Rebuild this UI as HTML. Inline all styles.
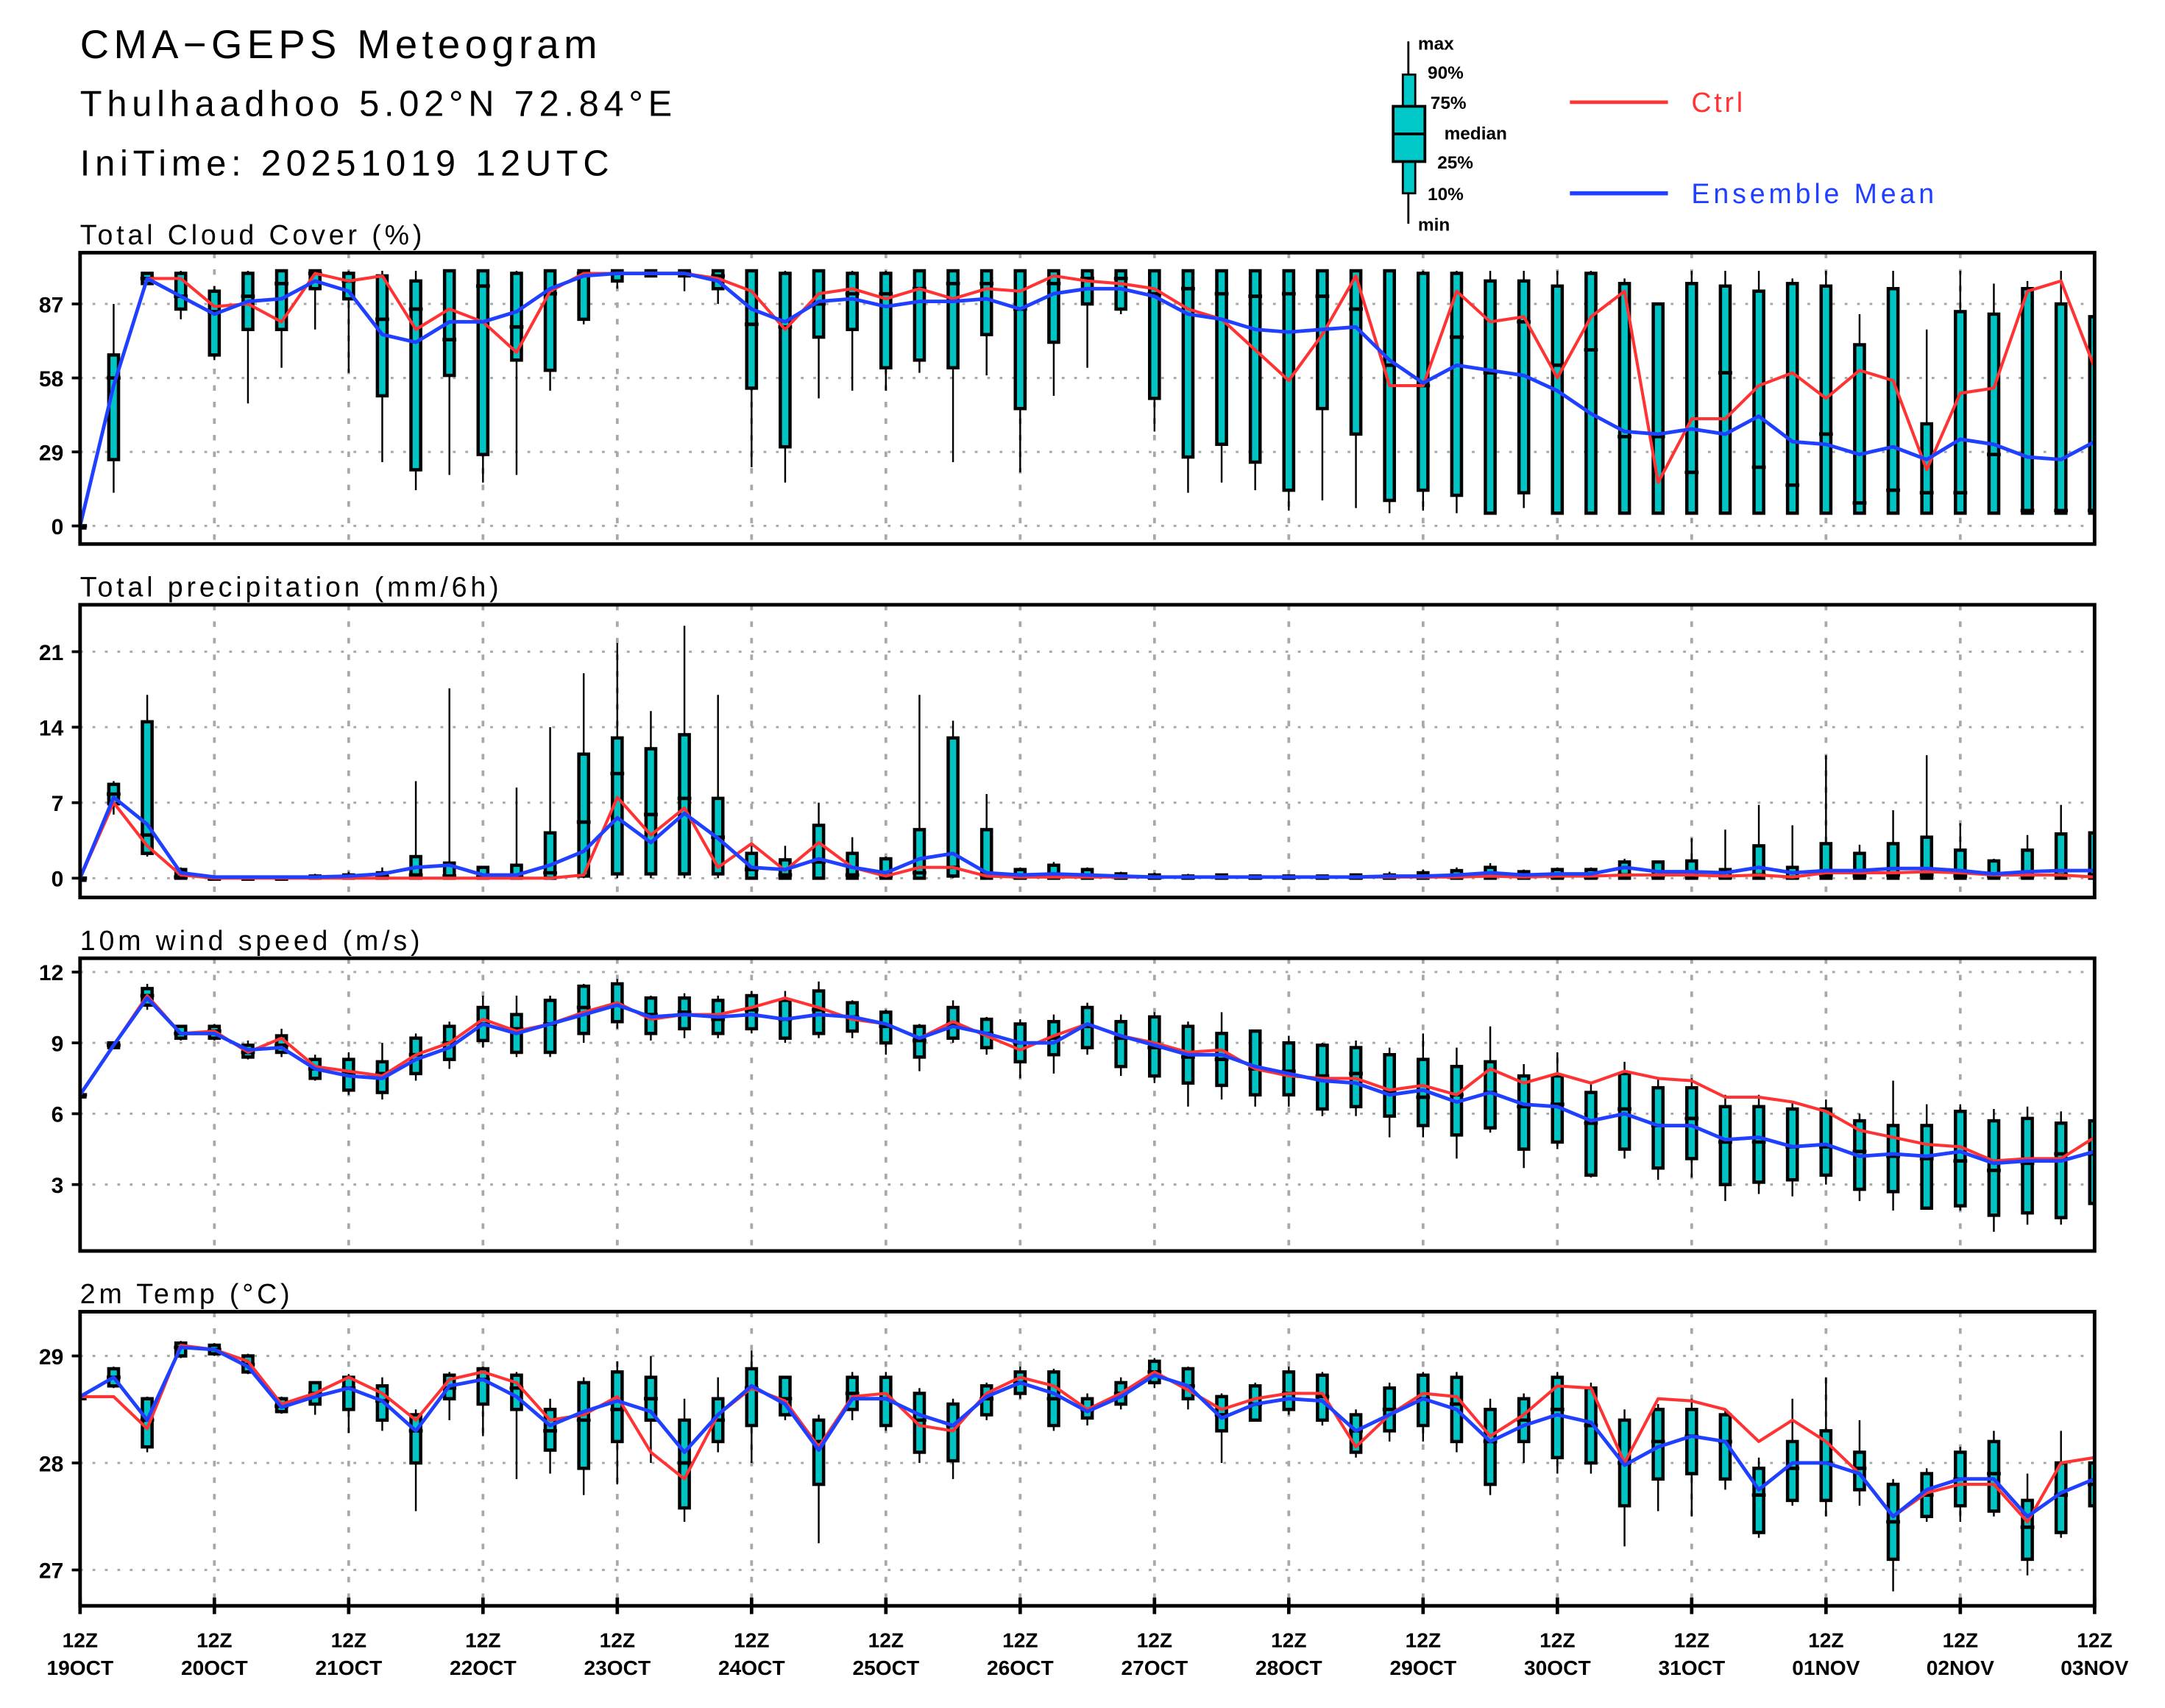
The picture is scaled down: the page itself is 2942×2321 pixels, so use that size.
<!DOCTYPE html>
<html><head><meta charset="utf-8"><style>
html,body{margin:0;padding:0;background:#fff;}
svg{display:block;font-family:"Liberation Sans","DejaVu Sans",sans-serif;}
</style></head><body>
<svg id="chart" width="2942" height="2321" viewBox="0 0 1568 1237" preserveAspectRatio="none" xmlns="http://www.w3.org/2000/svg">
<rect x="0" y="0" width="1568" height="1237" fill="#fff"/>
<g>
<text x="58" y="42" font-size="29" letter-spacing="3.4" fill="#000">CMA−GEPS Meteogram</text>
<text x="58" y="84" font-size="26" letter-spacing="3.6" fill="#000">Thulhaadhoo 5.02°N 72.84°E</text>
<text x="58" y="127" font-size="26" letter-spacing="3.6" fill="#000">IniTime: 20251019 12UTC</text>
</g>
<g font-size="13" font-weight="bold">
<line x1="1020" y1="30" x2="1020" y2="162" stroke="#000" stroke-width="1.5"/>
<rect x="1016" y="54" width="9" height="86" fill="#00c8c8" stroke="#000" stroke-width="1.5"/>
<rect x="1009" y="77" width="23" height="40" fill="#00c8c8" stroke="#000" stroke-width="2"/>
<line x1="1009" y1="97" x2="1032" y2="97" stroke="#000" stroke-width="2"/>
<text x="1027" y="36">max</text><text x="1034" y="57">90%</text><text x="1036" y="79">75%</text>
<text x="1046" y="101">median</text><text x="1041" y="122">25%</text><text x="1034" y="145">10%</text><text x="1027" y="167">min</text>
<line x1="1137" y1="74" x2="1208" y2="74" stroke="#ff3333" stroke-width="2.5"/>
<text x="1225" y="81" font-size="20" font-weight="normal" letter-spacing="2" fill="#ff3333">Ctrl</text>
<line x1="1137" y1="140" x2="1208" y2="140" stroke="#2040ff" stroke-width="3"/>
<text x="1225" y="147" font-size="20" font-weight="normal" letter-spacing="2.6" fill="#2040ff">Ensemble Mean</text>
</g>
<g id="plots"></g>
</svg>
<script>
// ---- Time axis ----
const dayLabels = ["19OCT","20OCT","21OCT","22OCT","23OCT","24OCT","25OCT","26OCT","27OCT","28OCT","29OCT","30OCT","31OCT","01NOV","02NOV","03NOV"];
// ---- Cloud cover (%) ----
const cloudTicks = [0,29,58,87];
const cloudMin = [0,13,97,81,65,48,62,77,60,25, 14,20,17,20,53,79,93,98,92,87, 23,17,50,53,53,60,25,59,21,51, 62,83,37,13,17,14,6,10,7,5, 6,5,5,7,5,5,5,5,5,5, 5,5,5,5,5,5,5,5,5,5, 5];
const cloudP10 = [0,26,95,85,67,77,77,93,89,51, 22,59,28,65,61,81,96,98,98,93, 54,31,74,77,62,65,62,75,46,72, 87,85,50,27,32,25,14,46,36,10, 14,12,5,13,5,5,5,5,5,5, 5,5,5,5,5,5,5,5,5,5, 5];
const cloudMed = [0,58,97,90,84,90,95,99,96,81, 85,73,94,78,91,99,99,99,99,98, 79,78,87,91,91,93,95,95,85,95, 97,97,91,93,91,90,91,90,85,63, 55,74,60,80,63,69,35,35,21,60, 23,16,36,9,14,13,13,28,6,6, 6];
const cloudP90 = [0,67,99,99,92,99,100,100,99,98, 96,100,100,99,100,100,100,100,100,100, 100,99,100,99,99,100,100,100,100,100, 100,100,100,100,100,100,100,100,100,100, 99,99,96,96,94,99,95,87,95,94, 92,95,94,71,93,40,84,83,93,87, 82];
const cloudMax = [0,87,97,100,94,100,100,100,100,100, 100,100,100,100,100,100,100,100,100,100, 100,100,100,100,100,100,100,100,100,100, 100,100,100,100,100,100,100,100,100,100, 100,100,100,100,100,100,97,87,100,100, 100,97,100,83,100,77,100,95,96,100, 82];
const cloudCtrl = [0,55,97,97,86,87,80,99,96,98, 77,85,80,68,92,99,99,99,99,97, 92,77,91,93,89,93,89,93,92,98, 96,95,93,85,81,69,57,75,98,55, 55,92,80,82,58,82,92,17,42,42, 55,60,50,61,57,22,52,54,92,96, 62];
const cloudMean = [0,55,97,90,83,88,89,96,92,75, 72,80,80,84,93,98,99,99,99,96, 85,80,88,89,86,88,88,89,85,91, 93,93,90,83,81,77,76,77,78,65, 56,63,61,59,53,44,37,36,38,36, 43,33,32,28,31,26,34,32,27,26, 33];
// ---- Precipitation (mm/6h) ----
const precTicks = [0,7,14,21];
const precMin = [0,5.9,2.0,0,0,0,0,0,0,0, 0,0,0,0,0,0,0,0,0,0, 0,0,0,0,0,0,0,0,0,0, 0,0,0,0,0,0,0,0,0,0, 0,0,0,0,0,0,0,0,0,0, 0,0,0,0,0,0,0,0,0,0, 0];
const precP10 = [0,6.9,2.3,0,0,0,0,0,0,0, 0,0,0,0,0,0.2,0.4,0.4,0.4,0.4, 0,0,0,0,0,0,0.2,0,0,0, 0,0,0,0,0,0,0,0,0,0, 0,0,0,0,0,0,0,0,0,0, 0,0,0,0,0,0,0,0,0,0, 0];
const precMed = [0,7.8,4.0,0.1,0,0,0,0.05,0.1,0.1, 0.3,0.2,0.1,0.1,0.5,5.2,9.7,5.9,7.4,3.8, 0.8,0.3,1.5,0.3,0.2,0.5,1.0,0.3,0.1,0.1, 0.1,0.05,0.05,0.05,0.05,0.05,0.05,0.05,0.05,0.05, 0.1,0.1,0.2,0.1,0.1,0.1,0.3,0.2,0.2,0.1, 0.3,0.1,0.3,0.2,0.3,0.3,0.2,0.2,0.2,0.3, 0.3];
const precP90 = [0,8.7,14.5,0.8,0.1,0.1,0.1,0.2,0.3,0.5, 2.0,1.4,1.0,1.2,4.2,11.5,13,12,13.3,7.4, 2.3,1.7,4.9,2.3,1.8,4.5,13,4.5,0.8,1.2, 0.8,0.4,0.3,0.2,0.3,0.2,0.2,0.2,0.3,0.3, 0.5,0.7,1.0,0.6,0.8,0.8,1.5,1.5,1.6,0.8, 3.0,1.0,3.2,2.3,3.2,3.8,2.6,1.6,2.6,4.1, 4.2];
const precMax = [0,9,17,1,0.2,0.2,0.2,0.4,0.6,1, 9,17.6,1,8.4,14,19,21.8,15.5,23.4,17, 3,3,7,3.8,2,17,14.6,7.8,1,1.5, 1,0.6,0.5,0.4,0.4,0.3,0.3,0.3,0.4,0.6, 0.8,1,1.4,0.8,1,1,1.8,1.6,3.7,4.5, 6.8,4.9,11.4,3.1,6.3,11.4,5.1,1.8,4,6.8, 4.2];
const precCtrl = [0,7,3,0.3,0,0,0,0,0,0, 0,0,0,0,0,0.3,7.5,4,6.5,1, 3.2,0.7,3.3,1,0.2,1,1,0.2,0.1,0.1, 0.1,0.1,0.1,0.1,0.1,0.1,0.1,0.1,0.1,0.1, 0.1,0.1,0.2,0.1,0.2,0.2,0.3,0.3,0.3,0.2, 0.3,0.1,0.5,0.5,0.5,0.6,0.5,0.3,0.3,0.3, 0.1];
const precMean = [0,7.5,5,0.5,0.1,0.1,0.1,0.1,0.2,0.4, 1.0,1.2,0.3,0.3,1.2,2.5,5.6,3.3,6,3.7, 1.0,0.8,1.8,1,0.5,1.8,2.3,0.5,0.3,0.4, 0.3,0.2,0.1,0.1,0.1,0.1,0.1,0.1,0.1,0.2, 0.2,0.3,0.5,0.3,0.4,0.4,1.0,0.6,0.6,0.5, 1,0.5,0.7,0.7,0.9,0.9,0.7,0.4,0.6,0.7, 0.7];
// ---- Wind speed (m/s) ----
const windTicks = [3,6,9,12];
const windMin = [6.8,8.8,10.4,9.1,9.1,8.3,8.4,7.4,6.8,6.6, 7.4,7.9,8.8,8.4,8.4,9.0,9.6,9.1,9.2,9.2, 9.4,9.0,9.2,9.2,8.5,7.8,9.0,8.5,7.5,7.7, 8.5,7.6,7.3,6.3,6.6,6.3,6.3,5.9,5.9,5.0, 5.0,4.1,5.2,3.7,4.5,3.3,4.1,3.2,3.3,2.3, 2.6,2.5,3.0,2.3,1.9,2.0,1.9,1.0,1.3,1.3, 2.1];
const windP10 = [6.8,8.8,10.6,9.2,9.2,8.4,8.6,7.5,7.0,6.9, 7.7,8.3,9.1,8.6,8.6,9.4,9.9,9.4,9.6,9.4, 9.6,9.2,9.4,9.5,9.0,8.4,9.2,8.8,8.2,8.5, 8.8,8.0,7.6,7.3,7.2,6.8,6.8,6.2,6.3,5.9, 5.5,5.1,5.4,4.5,4.8,3.4,4.5,3.7,4.1,3.0, 3.1,3.2,3.4,2.8,2.7,2.0,2.1,1.7,1.8,1.6, 2.2];
const windMed = [6.8,8.9,11,9.4,9.5,8.6,8.9,7.9,7.7,7.7, 8.5,9.0,9.8,9.6,9.8,10.5,10.6,10.2,10.3,10, 10.4,10,10.4,10.1,9.7,9.1,9.8,9.4,9.0,9.2, 9.7,9.2,8.8,8.4,8.3,7.9,7.8,7.6,7.7,6.9, 6.7,6.8,6.9,6.3,6.4,5.6,6.2,5.5,5.8,4.8, 4.8,4.6,4.6,4.4,4.2,4.1,4.0,3.6,3.9,4.3, 4.3];
const windP90 = [6.8,9.0,11.3,9.7,9.7,8.9,9.3,8.3,8.3,8.2, 9.2,9.7,10.5,10.2,10.8,11.4,11.5,10.9,10.9,10.8, 11,10.8,11.2,10.7,10.3,9.7,10.5,10,9.8,9.9, 10.5,9.9,10.1,9.7,9.4,9.5,9.0,8.9,8.8,8.5, 8.3,8.0,8.2,7.6,7.6,6.9,7.7,7.1,7.1,6.3, 6.3,6.2,6.2,5.7,5.5,5.5,6.1,5.7,5.8,5.6, 5.7];
const windMax = [6.8,9.0,11.5,9.7,9.8,9.1,9.6,8.5,8.6,9.0, 9.4,9.9,11,11,11,11.5,11.7,11,11.1,11, 11.2,11.2,11.6,10.8,10.4,9.8,10.8,10.1,10,10.2, 10.7,10.2,10.3,9.9,10.3,9.5,9.3,9.0,9.1,8.8, 9.4,8.8,9.7,8.1,8.6,7.3,8.2,7.5,7.5,6.8, 6.8,6.5,6.6,6.0,7.4,6.4,6.4,6.2,6.3,6.1, 5.9];
const windCtrl = [6.8,8.9,11,9.4,9.5,8.6,9.2,8.0,7.8,7.6, 8.5,9.0,10,9.5,9.8,10.3,10.7,10.0,10.2,10.2, 10.5,10.9,10.5,10.0,9.8,9.2,9.9,9.3,8.7,9.3, 9.8,9.3,9.0,8.6,8.7,7.9,7.6,7.5,7.5,7.0, 7.2,6.8,7.9,7.3,7.7,7.3,7.8,7.5,7.4,6.7, 6.7,6.5,6.1,5.3,5.0,4.7,4.6,4.0,4.1,4.1, 5.0];
const windMean = [6.8,8.9,10.9,9.4,9.4,8.7,8.8,7.9,7.6,7.5, 8.3,8.8,9.8,9.4,9.8,10.2,10.6,10.1,10.2,10.1, 10.2,10,10.2,10.1,9.8,9.2,9.7,9.4,9.0,9.0, 9.8,9.3,8.9,8.5,8.5,8.0,7.7,7.4,7.3,6.8, 7.0,6.5,6.9,6.4,6.3,5.7,6.0,5.5,5.5,4.9, 5.0,4.6,4.7,4.2,4.3,4.2,4.4,3.9,4.0,4.0, 4.4];
// ---- 2m Temperature (°C) ----
const tempTicks = [27,28,29];
const tempMin = [28.62,28.7,28.1,28.98,29.0,28.83,28.46,28.45,28.28,28.3, 27.55,28.4,28.25,27.85,27.9,27.7,27.8,28.0,27.45,28.1, 28.0,28.4,27.25,28.4,28.3,28.0,27.85,28.4,28.6,28.3, 28.35,28.5,28.7,28.5,28.0,28.4,28.45,28.35,28.05,28.2, 28.2,28.1,27.7,28.0,27.9,27.9,27.22,27.55,27.5,27.75, 27.3,27.6,27.5,27.6,26.8,27.45,27.45,27.5,26.95,27.3, 27.55];
const tempP10 = [28.62,28.72,28.15,29.0,29.02,28.85,28.48,28.55,28.5,28.4, 28.0,28.6,28.55,28.5,28.12,27.95,28.2,28.4,27.58,28.2, 28.35,28.45,27.8,28.5,28.35,28.1,28.02,28.45,28.65,28.35, 28.42,28.55,28.75,28.6,28.3,28.4,28.5,28.4,28.1,28.3, 28.35,28.2,27.8,28.2,28.05,28.0,27.6,27.85,27.9,27.85, 27.35,27.65,27.65,27.75,27.1,27.5,27.6,27.55,27.1,27.35, 27.6];
const tempMed = [28.62,28.8,28.4,29.08,29.06,28.92,28.53,28.65,28.7,28.58, 28.3,28.7,28.78,28.7,28.3,28.4,28.5,28.6,28.0,28.4, 28.7,28.6,28.2,28.65,28.6,28.4,28.35,28.6,28.75,28.6, 28.5,28.65,28.85,28.72,28.45,28.55,28.65,28.62,28.3,28.5, 28.6,28.55,28.2,28.4,28.5,28.35,28.0,28.2,28.25,28.2, 27.7,27.95,28.0,27.95,27.45,27.7,27.85,27.9,27.4,27.7, 27.8];
const tempP90 = [28.62,28.88,28.6,29.12,29.1,29.0,28.6,28.75,28.8,28.72, 28.45,28.82,28.88,28.82,28.5,28.75,28.85,28.8,28.4,28.6, 28.88,28.8,28.4,28.8,28.8,28.65,28.55,28.72,28.85,28.85, 28.6,28.75,28.95,28.88,28.62,28.72,28.85,28.82,28.45,28.7, 28.82,28.8,28.5,28.6,28.8,28.7,28.4,28.5,28.5,28.45, 27.95,28.2,28.3,28.1,27.8,27.9,28.1,28.2,27.65,28.0, 28.0];
const tempMax = [28.62,28.9,28.62,29.14,29.12,29.02,28.62,28.75,28.83,28.8, 28.5,28.85,28.9,28.85,28.6,28.8,28.95,29.0,28.6,28.8, 29.05,28.8,28.45,28.85,28.85,28.7,28.6,28.75,28.9,28.88, 28.65,28.8,28.98,28.9,28.65,28.75,28.9,28.85,28.5,28.75, 28.85,28.85,28.6,28.65,28.85,28.75,28.5,28.55,28.6,28.5, 28.05,28.6,28.8,28.4,27.85,27.95,28.15,28.3,27.9,28.3, 28.1];
const tempCtrl = [28.62,28.62,28.32,29.1,29.06,28.95,28.55,28.65,28.8,28.65, 28.4,28.78,28.85,28.75,28.4,28.45,28.62,28.1,27.85,28.45, 28.7,28.58,28.15,28.62,28.65,28.35,28.3,28.65,28.8,28.72, 28.5,28.65,28.85,28.68,28.5,28.6,28.65,28.65,28.15,28.45, 28.65,28.62,28.25,28.45,28.72,28.7,28.0,28.6,28.58,28.5, 28.2,28.4,28.2,27.9,27.5,27.72,27.8,27.8,27.45,28.0, 28.05];
const tempMean = [28.62,28.8,28.4,29.08,29.06,28.9,28.52,28.62,28.7,28.58, 28.3,28.72,28.78,28.62,28.35,28.48,28.58,28.48,28.1,28.45, 28.72,28.55,28.12,28.6,28.6,28.45,28.35,28.62,28.75,28.65, 28.48,28.62,28.82,28.72,28.42,28.55,28.6,28.58,28.3,28.45, 28.6,28.5,28.2,28.35,28.45,28.38,27.98,28.15,28.25,28.2, 27.75,28.0,28.0,27.9,27.5,27.75,27.85,27.85,27.5,27.72, 27.85];

const NS = "http://www.w3.org/2000/svg";
const X0 = 58, X1 = 1517, NSTEP = 60;
function xAt(i){ return X0 + (X1 - X0) * i / NSTEP; }
function mk(tag, attrs, parent){
  const e = document.createElementNS(NS, tag);
  for (const k in attrs) e.setAttribute(k, attrs[k]);
  parent.appendChild(e); return e;
}
const root = document.getElementById("plots");

function panel(p){
  const g = mk("g", {}, root);
  
  
  const yv = v => p.y0 + (p.vTop - v) * (p.y1 - p.y0) / (p.vTop - p.vBot);
  const t = mk("text", {x:58, y:p.y0-6, "font-size":20, "letter-spacing":"2.6", fill:"#000"}, g);
  t.textContent = p.title;
  
  
  p.ticks.forEach(v => {
    const y = yv(v);
    const gl = mk("line", {x1:X0, x2:X1, y1:y, y2:y, stroke:"#a8a8a8", "stroke-width":1.6, "stroke-dasharray":"2 7"}, g);
    
    
    mk("line", {x1:X0-6, x2:X0, y1:y, y2:y, stroke:"#000", "stroke-width":2}, g);
    const tl = mk("text", {x:46, y:y+6, "font-size":16, "font-weight":"bold", "text-anchor":"end", fill:"#000"}, g);
    tl.textContent = v;
    
    
  });
  for (let d = 1; d < dayLabels.length - 1; d++){
    const x = xAt(d*4);
    const vl = mk("line", {x1:x, x2:x, y1:p.y0, y2:p.y1, stroke:"#a8a8a8", "stroke-width":2, "stroke-dasharray":"4 8"}, g);
    
    
  }
  const clipId = "clip-" + p.name;
  const cp = mk("clipPath", {id:clipId}, g);
  mk("rect", {x:X0, y:p.y0, width:X1-X0, height:p.y1-p.y0}, cp);
  const pg = mk("g", {"clip-path":"url(#"+clipId+")"}, g);
  for (let i = 0; i < p.med.length; i++){
    const x = xAt(i);
    const bx = mk("g", {}, pg);
    
    
    mk("line", {x1:x, x2:x, y1:yv(p.max[i]), y2:yv(p.min[i]), stroke:"#000", "stroke-width":1.3}, bx);
    const top = yv(p.p90[i]), bot = yv(p.p10[i]);
    mk("rect", {x:x-3.5, y:top, width:7, height:Math.max(bot-top,1.5), fill:"#00c4c4", stroke:"#000", "stroke-width":2.4}, bx);
    const ym = yv(p.med[i]);
    mk("line", {x1:x-5, x2:x+5, y1:ym, y2:ym, stroke:"#000", "stroke-width":2.5}, bx);
  }
  const pts = arr => arr.map((v,i) => xAt(i).toFixed(1) + "," + yv(v).toFixed(1)).join(" ");
  const cl = mk("polyline", {points:pts(p.ctrl), fill:"none", stroke:"#ff3333", "stroke-width":2.2, "stroke-linejoin":"round"}, pg);
  
  
  const ml = mk("polyline", {points:pts(p.mean), fill:"none", stroke:"#2040ff", "stroke-width":2.6, "stroke-linejoin":"round"}, pg);
  
  
  const fr = mk("rect", {x:X0, y:p.y0, width:X1-X0, height:p.y1-p.y0, fill:"none", stroke:"#000", "stroke-width":2.6}, g);
  
  
}

panel({name:"cloud", title:"Total Cloud Cover (%)", y0:183, y1:394, vTop:107.1, vBot:-7.1, ticks:cloudTicks,
  min:cloudMin, p10:cloudP10, med:cloudMed, p90:cloudP90, max:cloudMax, ctrl:cloudCtrl, mean:cloudMean});
panel({name:"precip", title:"Total precipitation (mm/6h)", y0:438, y1:650, vTop:25.35, vBot:-1.79, ticks:precTicks,
  min:precMin, p10:precP10, med:precMed, p90:precP90, max:precMax, ctrl:precCtrl, mean:precMean});
panel({name:"wind", title:"10m wind speed (m/s)", y0:694, y1:906, vTop:12.585, vBot:0.187, ticks:windTicks,
  min:windMin, p10:windP10, med:windMed, p90:windP90, max:windMax, ctrl:windCtrl, mean:windMean});
panel({name:"temp", title:"2m Temp (°C)", y0:950, y1:1163, vTop:29.413, vBot:26.665, ticks:tempTicks,
  min:tempMin, p10:tempP10, med:tempMed, p90:tempP90, max:tempMax, ctrl:tempCtrl, mean:tempMean});

dayLabels.forEach((lab, d) => {
  const x = xAt(d*4);
  mk("line", {x1:x, x2:x, y1:1157, y2:1169, stroke:"#000", "stroke-width":2.5}, root);
  const a = mk("text", {x:x, y:1193, "font-size":15, "font-weight":"bold", "text-anchor":"middle", fill:"#000"}, root);
  a.textContent = "12Z";
  
  
  const b = mk("text", {x:x, y:1213, "font-size":15, "font-weight":"bold", "text-anchor":"middle", fill:"#000"}, root);
  b.textContent = lab;
  
  
});
</script>
</body></html>
